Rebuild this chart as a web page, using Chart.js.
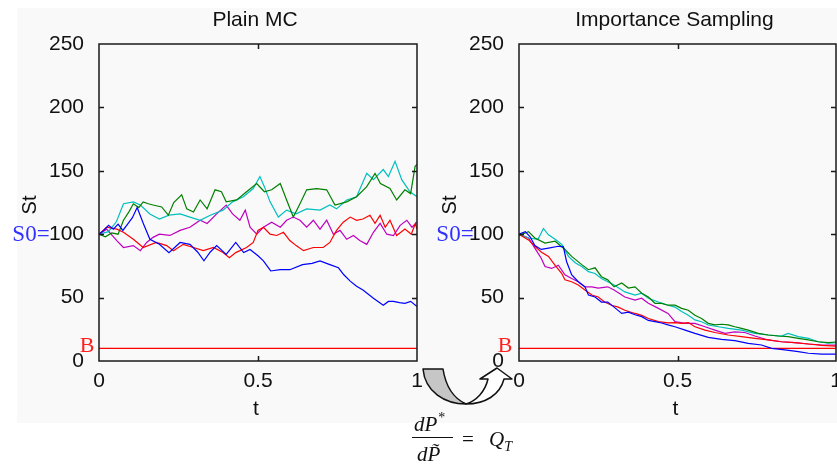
<!DOCTYPE html>
<html>
<head>
<meta charset="utf-8">
<script src="https://cdn.jsdelivr.net/npm/chart.js@4.4.1/dist/chart.umd.min.js"></script>
<style>
  html, body { margin: 0; padding: 0; background: #ffffff; overflow: hidden; width: 837px; height: 466px; }
  #figbg { position: absolute; left: 17px; top: 8px; width: 820px; height: 415px; background: #f9f9f9; }
  canvas { position: absolute; top: 0; }
  #leftChart { left: 0px; }
  #rightChart { left: 420px; }
  #arrow { position: absolute; left: 0; top: 0; }
  .tex { position: absolute; font-family: "Liberation Serif", "DejaVu Serif", serif; font-style: italic; font-size: 21px; color: #111; line-height: 1; white-space: nowrap; }
  .up { font-style: normal; }
  #fracline { position: absolute; left: 412px; top: 437px; width: 41px; height: 1px; background: #111; }
</style>
</head>
<body>
<div id="figbg"></div>
<canvas id="leftChart" width="440" height="466"></canvas>
<canvas id="rightChart" width="440" height="466"></canvas>
<svg id="arrow" width="837" height="466">
  <path d="M423,369 L443,369 C446,388 455,399 466,404 C445,404 425,392 423,369 Z" fill="#c6c6c6" stroke="#111" stroke-width="1.5" stroke-linejoin="round"/>
  <path d="M466,404 C485,404 500,395 504,379 L512,379 L497,368 L480,379 L488,379 C485,392 476,401 466,404 Z" fill="#ffffff" stroke="#111" stroke-width="1.5" stroke-linejoin="round"/>
</svg>
<div class="tex" style="left:414px; top:414px;">dP<span class="up" style="font-size:14px; position:relative; top:-9px; left:1px;">*</span></div>
<div id="fracline"></div>
<div class="tex" style="left:417px; top:444px;">dP&#771;</div>
<div class="tex up" style="left:462px; top:429px;">=</div>
<div class="tex" style="left:489px; top:429px;">Q<span style="font-size:14px; position:relative; top:5px;">T</span></div>
<script>
// barrier and start value
const S0 = 100;
const B = 10;
const tTicks = [0, 0.5, 1];
const sTicks = [0, 50, 100, 150, 200, 250];

// Plain MC paths, [t, St]
const mcBlue = [[0,100],[0.015,103],[0.03,107],[0.045,104],[0.06,108],[0.075,103],[0.09,108],[0.105,113],[0.12,121],[0.14,108],[0.16,96],[0.19,92],[0.22,85.5],[0.255,93.5],[0.286,92],[0.31,86],[0.33,79],[0.35,86],[0.37,91],[0.40,84],[0.43,93.5],[0.455,85.5],[0.475,88],[0.50,83],[0.517,79],[0.54,71],[0.57,72],[0.60,72],[0.64,76],[0.67,77],[0.695,79],[0.726,76],[0.753,73.5],[0.77,68],[0.79,63],[0.81,59],[0.83,56],[0.863,49.5],[0.894,44],[0.91,47],[0.926,47],[0.945,46],[0.962,45.5],[0.98,47],[1,43]];
const mcGreen = [[0,100],[0.02,98],[0.04,101],[0.06,100],[0.077,111],[0.095,118],[0.108,124],[0.125,121],[0.139,125.5],[0.155,124],[0.17,123],[0.197,121.5],[0.218,115],[0.235,125],[0.26,131],[0.276,120],[0.297,117.5],[0.318,127],[0.34,120],[0.365,135],[0.385,133.5],[0.40,125.5],[0.433,127],[0.464,133.5],[0.496,140],[0.52,133.5],[0.543,135],[0.57,140],[0.59,127],[0.611,113.5],[0.632,124],[0.653,135],[0.684,136],[0.716,135],[0.742,123],[0.779,125.5],[0.81,129.5],[0.842,137.5],[0.868,148],[0.885,140],[0.915,136],[0.936,127],[0.962,135],[0.98,132],[0.994,153.5],[1,155]];
const mcRed = [[0,100],[0.024,105.5],[0.056,104],[0.077,101.5],[0.108,96],[0.139,89.5],[0.18,93.5],[0.213,91],[0.234,87],[0.265,92],[0.297,89.5],[0.328,87],[0.36,89.5],[0.39,85.5],[0.41,81.5],[0.43,85.5],[0.464,89.5],[0.485,93.5],[0.50,103],[0.517,105.5],[0.538,100],[0.559,99],[0.58,101.5],[0.60,95],[0.62,91],[0.643,87],[0.674,89.5],[0.705,89.5],[0.726,93.5],[0.747,103],[0.768,109.5],[0.79,113.5],[0.81,111],[0.83,112],[0.852,115],[0.868,108.5],[0.884,115],[0.9,105.5],[0.915,111],[0.936,99],[0.962,104],[0.982,100],[0.995,108.5],[1,104]];
const mcCyan = [[0,100],[0.03,102],[0.055,110],[0.077,124],[0.108,125.5],[0.13,123],[0.16,116],[0.19,112],[0.22,115],[0.255,116],[0.286,113.5],[0.318,111],[0.35,115],[0.39,119],[0.42,125.5],[0.454,129.5],[0.485,136],[0.506,145.5],[0.52,137.5],[0.538,125.5],[0.564,113.5],[0.59,119],[0.62,116],[0.653,120],[0.695,119],[0.726,123],[0.747,120],[0.779,127],[0.81,129.5],[0.842,148],[0.863,143],[0.894,151],[0.91,145.5],[0.931,157.5],[0.952,143],[0.978,133.5],[1,129.5]];
const mcMagenta = [[0,100],[0.024,104],[0.056,95],[0.077,89.5],[0.108,91],[0.13,87],[0.15,93.5],[0.17,97.5],[0.19,100],[0.223,99],[0.255,103],[0.286,105.5],[0.318,111],[0.34,108.5],[0.37,116],[0.40,123],[0.42,116],[0.443,111],[0.46,119],[0.475,105.5],[0.496,100],[0.517,105.5],[0.543,109.5],[0.57,105.5],[0.59,111],[0.611,113.5],[0.632,111],[0.653,105.5],[0.674,111],[0.695,104],[0.716,111],[0.737,100],[0.758,103],[0.779,96],[0.80,99],[0.82,95],[0.842,92],[0.863,101.5],[0.884,108.5],[0.905,100],[0.926,99],[0.947,107],[0.968,111],[0.984,105.5],[1,109.5]];

// Importance sampling paths, [t, St]
const isBlue = [[0,100],[0.02,102],[0.035,98],[0.05,91],[0.07,88],[0.093,89],[0.124,90.5],[0.14,90],[0.15,78.5],[0.166,68],[0.187,62.5],[0.208,58.5],[0.219,52],[0.24,50.5],[0.26,46.5],[0.28,46.5],[0.30,42.5],[0.324,37.5],[0.345,38.5],[0.366,36.5],[0.387,35],[0.408,32],[0.429,31],[0.45,30],[0.47,28.5],[0.492,27],[0.524,24.4],[0.555,21.8],[0.597,18.7],[0.639,17.1],[0.681,16],[0.723,13.9],[0.765,12.6],[0.797,10],[0.839,8.7],[0.881,7.4],[0.913,6.1],[0.955,5.5],[1,5.5]];
const isGreen = [[0,99],[0.03,102],[0.05,97],[0.082,93],[0.114,94.5],[0.145,88],[0.166,82.5],[0.198,76],[0.219,72],[0.24,73.5],[0.26,66.5],[0.28,64],[0.30,58.5],[0.324,61.5],[0.345,57.5],[0.366,58.5],[0.387,53.5],[0.408,50.5],[0.429,45.5],[0.45,45.5],[0.47,44],[0.492,44],[0.513,41.5],[0.534,40],[0.555,36],[0.576,33.5],[0.597,29.7],[0.618,28.5],[0.639,29],[0.66,28.5],[0.681,27],[0.702,25.7],[0.723,24.4],[0.755,21.8],[0.786,20.5],[0.818,19.7],[0.849,19.2],[0.881,17.9],[0.913,16.6],[0.944,15.2],[0.976,14.5],[1,15]];
const isRed = [[0,100],[0.03,95.5],[0.05,90.5],[0.07,86],[0.093,82.5],[0.114,75.5],[0.135,69],[0.145,64],[0.166,62.5],[0.187,60],[0.208,56],[0.23,52],[0.25,50.5],[0.27,46.5],[0.292,44],[0.313,42.5],[0.334,40],[0.366,37.5],[0.387,36],[0.408,33.5],[0.44,31],[0.47,30],[0.492,30.3],[0.513,29.7],[0.534,30.3],[0.555,27],[0.587,24.4],[0.618,22.5],[0.66,20.5],[0.702,19.2],[0.744,17.9],[0.786,16.6],[0.828,15.2],[0.87,14.5],[0.913,13.4],[0.955,12.4],[1,11.8]];
const isCyan = [[0,100],[0.03,97],[0.06,96],[0.077,104.5],[0.093,99.5],[0.114,96],[0.135,92],[0.156,82.5],[0.177,77.5],[0.198,74.5],[0.219,70.5],[0.24,69],[0.26,65],[0.28,62.5],[0.30,60],[0.334,54.5],[0.366,52],[0.387,53.5],[0.408,49.5],[0.44,46.5],[0.47,44],[0.492,42.5],[0.513,39],[0.534,36],[0.555,32.4],[0.576,31],[0.597,28.4],[0.629,27],[0.66,25.7],[0.702,24.4],[0.744,21.8],[0.786,20.5],[0.828,19.7],[0.849,21.8],[0.881,19.2],[0.913,17.9],[0.944,15.2],[0.976,14],[1,14.4]];
const isMagenta = [[0,100],[0.03,97],[0.05,89],[0.07,81],[0.082,74.5],[0.103,73],[0.124,75.5],[0.145,68],[0.166,65],[0.187,62.5],[0.208,58.5],[0.23,58.5],[0.25,57.5],[0.28,58.5],[0.30,56],[0.334,50.5],[0.366,48],[0.387,49.5],[0.408,45.5],[0.44,41.5],[0.47,37.5],[0.492,31],[0.524,29.7],[0.555,29.7],[0.587,27],[0.618,24.4],[0.65,21.8],[0.681,23],[0.712,22.5],[0.744,19.7],[0.786,16.6],[0.828,15.2],[0.87,14.5],[0.913,13.4],[0.955,12.6],[1,12.6]];

const pathColors = ['#0000ff', '#008000', '#ff0000', '#00bfbf', '#bf00bf'];
const tickFont = { family: 'Liberation Sans', size: 21 };

window.chartInstances = {};

// frame, inward ticks and labels, MATLAB style
const figurePlugin = {
    id: 'figureDeco',
    afterDraw(chart, args, opts) {
        const ctx = chart.ctx;
        const a = chart.chartArea;
        const xs = chart.scales.x;
        const ys = chart.scales.y;
        ctx.save();
        ctx.strokeStyle = '#1a1a1a';
        ctx.lineWidth = 1.5;
        ctx.strokeRect(a.left, a.top, a.right - a.left, a.bottom - a.top);
        ctx.beginPath();
        sTicks.slice(1, -1).forEach(v => {
            const y = Math.round(ys.getPixelForValue(v)) + 0.5;
            ctx.moveTo(a.left, y); ctx.lineTo(a.left + 5, y);
            ctx.moveTo(a.right, y); ctx.lineTo(a.right - 5, y);
        });
        tTicks.slice(1, -1).forEach(v => {
            const x = Math.round(xs.getPixelForValue(v)) + 0.5;
            ctx.moveTo(x, a.bottom); ctx.lineTo(x, a.bottom - 5);
            ctx.moveTo(x, a.top); ctx.lineTo(x, a.top + 5);
        });
        ctx.stroke();

        ctx.fillStyle = '#111';
        ctx.textAlign = 'center';
        ctx.textBaseline = 'middle';
        ctx.font = '21px "Liberation Sans"';
        ctx.fillText(opts.title, (a.left + a.right) / 2 - 3, 20);
        ctx.fillText('t', (a.left + a.right) / 2 - 2, 409);

        ctx.save();
        ctx.translate(opts.stX, 205);
        ctx.rotate(-Math.PI / 2);
        ctx.font = '20px "Liberation Sans"';
        ctx.fillText('St', 0, 0);
        ctx.restore();

        ctx.font = '23px "Liberation Serif"';
        ctx.fillStyle = '#3030ff';
        ctx.fillText('S0=', opts.s0X, ys.getPixelForValue(S0) + 1);
        ctx.fillStyle = '#ff2020';
        ctx.font = '22px "Liberation Serif"';
        ctx.fillText('B', opts.bX, ys.getPixelForValue(B) - 2);
        ctx.restore();
    }
};

window.initializeChart = function(canvasId, title, paths, rightPad, deco) {
    try {
        const canvas = document.getElementById(canvasId);
        if (!canvas) {
            console.error(`Canvas element not found: ${canvasId}`);
            return;
        }
        const ctx = canvas.getContext('2d');

        const datasets = paths.map((p, i) => ({
            data: p.map(d => ({ x: d[0], y: d[1] })),
            borderColor: pathColors[i],
            borderWidth: 1.2,
            pointRadius: 0,
            tension: 0,
            fill: false
        }));
        // barrier level
        datasets.push({
            data: [{ x: tTicks[0], y: B }, { x: tTicks[tTicks.length - 1], y: B }],
            borderColor: '#ff0000',
            borderWidth: 1.2,
            pointRadius: 0,
            fill: false
        });

        window.chartInstances[canvasId] = new Chart(ctx, {
            type: 'line',
            data: { datasets: datasets },
            options: {
                responsive: false,
                animation: false,
                devicePixelRatio: 1,
                layout: { padding: { top: 44, right: rightPad, left: 0, bottom: 0 } },
                plugins: {
                    legend: { display: false },
                    tooltip: { enabled: false },
                    figureDeco: Object.assign({ title: title }, deco)
                },
                scales: {
                    x: {
                        type: 'linear',
                        min: tTicks[0],
                        max: tTicks[tTicks.length - 1],
                        grid: { display: false },
                        border: { display: false },
                        afterBuildTicks: s => { s.ticks = tTicks.map(v => ({ value: v })); },
                        ticks: { font: tickFont, color: '#111', padding: 0, maxRotation: 0, autoSkip: false, callback: v => String(v) },
                        afterFit: s => { s.height = 105; }
                    },
                    y: {
                        min: sTicks[0],
                        max: sTicks[sTicks.length - 1],
                        grid: { display: false },
                        border: { display: false },
                        afterBuildTicks: s => { s.ticks = sTicks.map(v => ({ value: v })); },
                        ticks: { font: tickFont, color: '#111', padding: 7, callback: v => String(v) },
                        afterFit: s => { s.width = 99; }
                    }
                }
            },
            plugins: [figurePlugin]
        });
        console.log(`Chart ${canvasId} created`);
    } catch (error) {
        console.error(`Error initializing chart ${canvasId}:`, error);
    }
};

window.initializeChart('leftChart', 'Plain MC', [mcBlue, mcGreen, mcRed, mcCyan, mcMagenta], 23, { stX: 30, s0X: 31, bX: 87 });
window.initializeChart('rightChart', 'Importance Sampling', [isBlue, isGreen, isRed, isCyan, isMagenta], 24, { stX: 30, s0X: 35, bX: 85 });
</script>
</body>
</html>
